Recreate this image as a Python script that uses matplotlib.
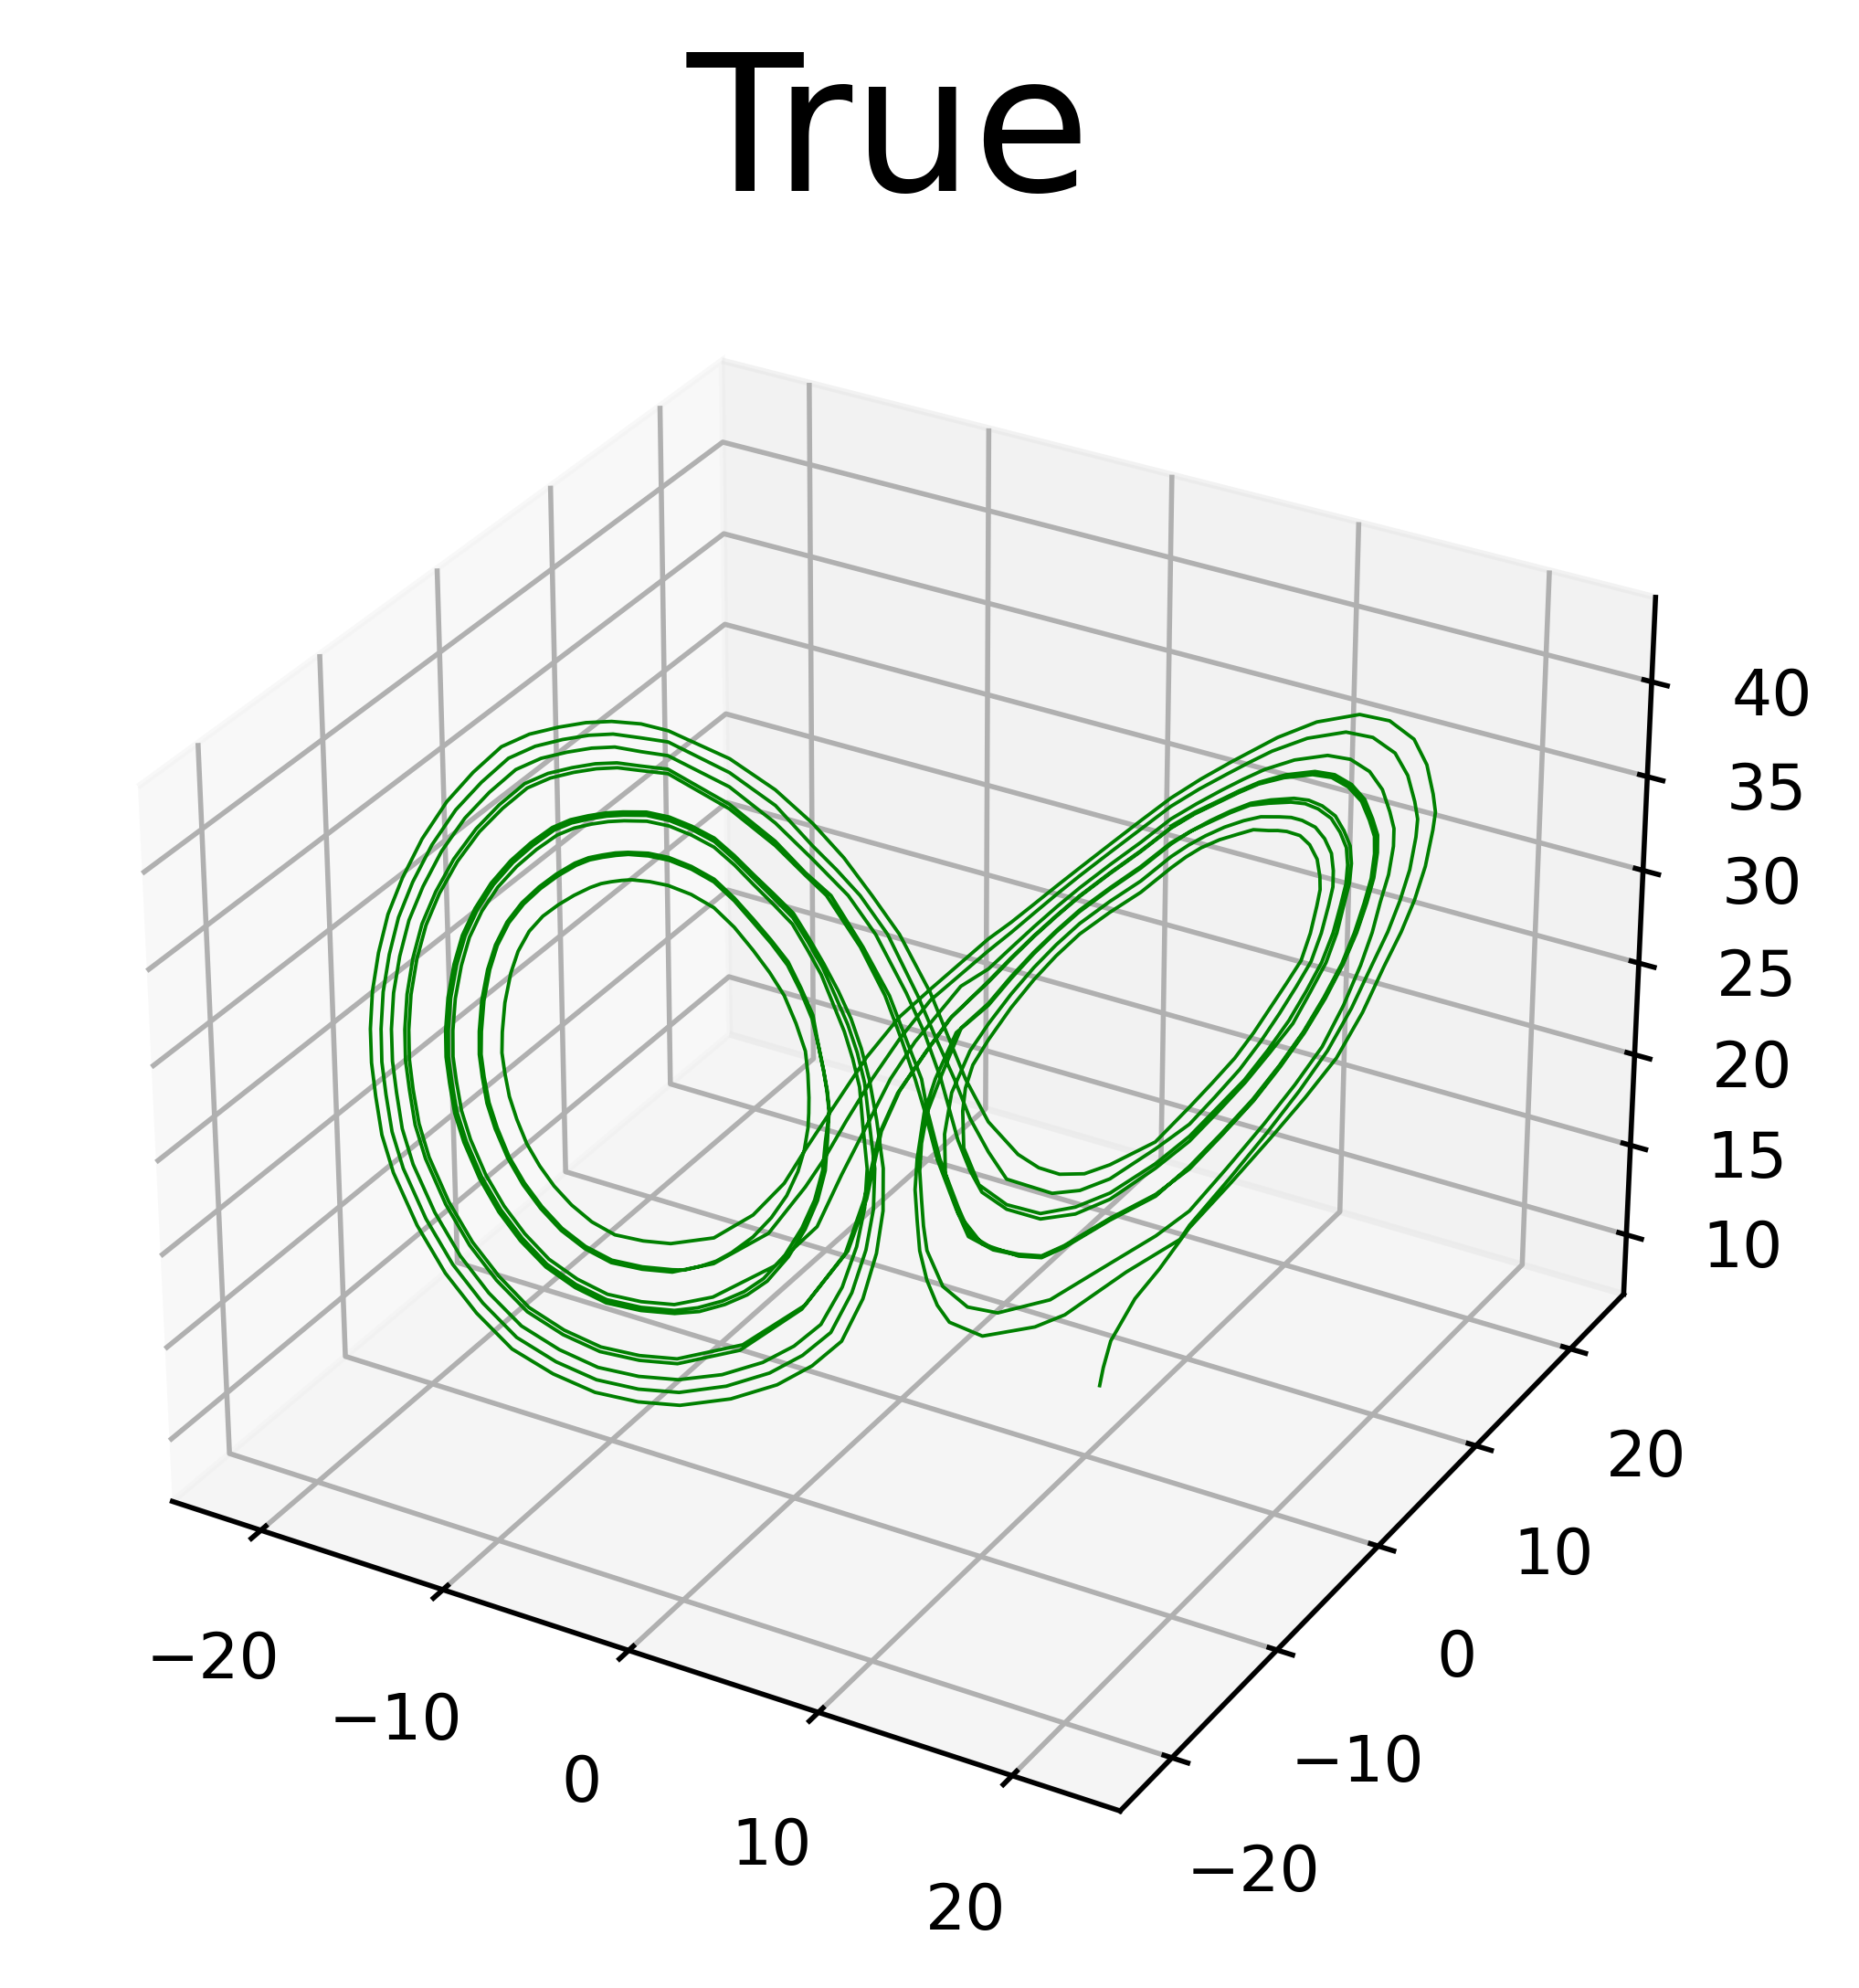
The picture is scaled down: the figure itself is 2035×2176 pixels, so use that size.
import matplotlib
matplotlib.use("Agg")
import matplotlib.pyplot as plt

# Trajectory, one line per stretch of the curve.
# Only the projection can be read, so depth is taken as y = x (see traj_y).
traj_x = [
    6.94, 7.06, 7.31, 8.14, 8.98,
    10.01, 11.40, 12.78, 13.97, 15.03, 15.90, 16.60, 17.17, 17.60, 17.94, 18.16, 18.23, 18.13, 17.88, 17.41, 16.55, 15.51, 14.05, 12.72, 11.96, 11.19, 10.14, 9.12, 8.11, 7.08, 6.05, 5.28, 4.50, 3.73, 2.96,
    1.0, -.05, -1.17, -2.23, -3.27, -3.99, -5.06, -6.40,
    -7.87, -8.80, -9.75, -10.52, -11.19, -11.76, -12.23, -12.64, -12.95, -13.18, -13.31, -13.39, -13.36, -13.25, -13.03, -12.77, -12.39, -11.93, -11.41, -10.89, -10.35, -9.99, -9.66, -9.31, -8.98,
    -8.38, -7.77, -7.01, -6.26, -5.59, -4.97, -4.42, -3.94, -3.55, -3.24, -3.16, -3.13, -3.14, -3.17, -3.30, -3.52, -3.91, -4.44, -5.07, -5.80, -6.33, -6.89, -7.42,
    -7.83, -8.84, -9.87, -10.75, -11.53, -12.19, -12.75, -13.24, -13.61, -13.86, -14.0, -14.08, -14.05, -13.94, -13.72, -13.45, -13.05, -12.55, -11.98, -11.40, -10.80, -10.35, -9.92, -9.48, -9.07,
    -8.41, -7.74, -6.99, -6.25, -5.58, -4.96, -4.36, -3.82, -3.38, -3.01, -2.80, -2.63, -2.52, -2.45, -2.51, -2.59, -2.86, -3.29, -3.87, -4.60, -5.29, -6.06, -6.93,
    -7.77, -8.92, -10.09, -11.13, -12.10, -12.93, -13.63, -14.24, -14.73, -15.01, -15.15, -15.24, -15.23, -15.12, -14.89, -14.59, -14.15, -13.60, -12.94, -12.27, -11.55, -10.95, -10.36, -9.77, -9.22,
    -8.45, -7.70, -6.96, -6.22, -5.56, -4.93, -4.27, -3.61, -3.10, -2.61, -2.12, -1.69, -1.35, -1.08, -.83, -.61, -.62, -.85, -1.32, -2.06, -3.08, -4.29, -5.89,
    -7.64, -9.07, -10.53, -11.94, -13.31, -14.47, -15.48, -16.37, -17.10, -17.44, -17.60, -17.70, -17.70, -17.59, -17.35, -17.0, -16.49, -15.81, -14.97, -14.09, -13.15, -12.23, -11.28, -10.38, -9.54,
    -8.58, -7.69, -5.68, -4.18, -2.94, -1.91, -.97, -.05, 1.0, 1.51, 2.20, 2.99, 4.02, 4.74, 5.46, 6.32, 7.2, 8.77,
    9.94, 10.71, 11.48, 12.12, 12.71, 13.22, 13.71, 14.01, 14.21, 14.31, 14.29, 14.18, 13.91, 13.57, 13.11, 12.80, 12.49, 11.96, 11.44, 10.81, 10.18, 9.67, 9.16, 8.14, 7.09, 6.07, 5.27, 4.52, 3.75, 2.98,
    2.45, 2.2, 2.11, 2.15, 2.68, 3.64, 4.81, 6.02, 7.22, 8.79,
    9.96, 10.88, 11.83, 12.62, 13.34, 13.92, 14.43, 14.80, 15.04, 15.20, 15.24, 15.18, 14.95, 14.63, 14.17, 13.72, 13.23, 12.47, 11.82, 11.16, 10.48, 9.83, 9.15, 8.13, 7.09, 6.06, 5.27, 4.51, 3.74, 2.97,
    2.05, 1.33, .89, .70, .64, .70, .77, .89, 1.44, 2.30, 3.35, 5.17, 7.26, 8.84,
    10.0, 11.29, 12.55, 13.60, 14.52, 15.23, 15.79, 16.16, 16.41, 16.67, 16.81, 16.81, 16.65, 16.37, 15.91, 15.24, 14.45, 13.32, 12.30, 11.58, 10.86, 9.99, 9.13, 8.12, 7.08, 6.06, 5.28, 4.51, 3.74, 2.97,
    2.03, .48, -.36, -1.08, -2.03, -2.88, -4.33, -6.46,
    -7.78, -8.90, -10.04, -11.05, -11.99, -12.78, -13.45, -14.04, -14.51, -14.78, -14.92, -15.01, -14.99, -14.88, -14.65, -14.36, -13.93, -13.39, -12.75, -12.09, -11.40, -10.83, -10.27, -9.71, -9.19,
    -8.44, -7.71, -6.97, -6.23, -5.56, -4.94, -4.29, -3.65, -3.16, -2.69, -2.29, -1.92, -1.64, -1.41, -1.30, -1.16, -1.25, -1.53, -2.03, -2.77, -3.70, -4.78, -6.18,
    -7.68, -9.03, -10.41, -11.71, -12.97, -14.04, -14.96, -15.77, -16.44, -16.76, -16.91, -17.01, -17.01, -16.90, -16.66, -16.32, -15.83, -15.19, -14.40, -13.58, -12.70, -11.87, -11.02, -10.21, -9.45,
    -8.60, -7.71, -5.70, -4.19, -2.95, -1.77, -.85, .18, .79, 1.36, 1.95, 2.37, 2.78, 3.64, 4.81, 6.02, 7.22, 8.79,
    9.96, 10.91, 11.87, 12.69, 13.48, 14.05, 14.58, 14.93, 15.15, 15.32, 15.37, 15.31, 15.08, 14.77, 14.31, 13.84, 13.33, 12.54, 11.85, 11.18, 10.50, 9.83, 9.15, 8.13, 7.09, 6.06, 5.27, 4.51, 3.74, 2.97,
    1.88, 1.17, .79, .55, .48, .55, .64, .89, 1.25, 1.67, 2.82, 4.65, 5.69, 7.82, 9.69,
    10.01, 11.37, 12.68, 13.77, 14.71, 15.51, 16.17, 16.70, 17.09, 17.40, 17.58, 17.62, 17.50, 17.23, 16.77, 15.99, 15.06, 13.74, 12.54, 11.80, 11.05, 10.08, 9.12, 8.11, 7.08, 6.05, 5.28, 4.50, 3.73, 2.96,
    1.0, -.05, -.99, -1.86, -2.64, -3.27, -4.54, -6.42,
    -7.83, -8.85, -9.89, -10.77, -11.56, -12.23, -12.80, -13.29, -13.68, -13.93, -14.06, -14.14, -14.12, -14.01, -13.79, -13.51, -13.11, -12.61, -12.03, -11.45, -10.84, -10.38, -9.94, -9.50, -9.08,
    -8.41, -7.74, -6.99, -6.24, -5.58, -4.95, -4.36, -3.80, -3.37, -2.98, -2.80, -2.63, -2.51, -2.44, -2.58, -2.68, -2.96, -3.40, -3.98, -4.72, -5.39, -6.14, -6.98,
    -7.78, -8.91, -10.07, -11.10, -12.06, -12.87, -13.56, -14.17, -14.65, -14.93, -15.07, -15.16, -15.14, -15.03, -14.80, -14.50, -14.07, -13.52, -12.87, -12.20, -11.50, -10.91, -10.32, -9.75, -9.21,
    -8.45, -7.70, -6.96, -6.22, -5.56, -4.93, -4.28, -3.63, -3.12, -2.64, -2.20, -1.80, -1.48, -1.24, -1.08, -.90, -.95, -1.21, -1.70, -2.43, -3.41, -4.55, -6.04,
    -7.66, -9.05, -10.47, -11.83, -13.14, -14.25, -15.22, -16.07, -16.77, -17.10, -17.26, -17.36, -17.35, -17.24, -17.0, -16.66, -16.16, -15.50, -14.69, -13.83, -12.93, -12.05, -11.15, -10.29, -9.50,
    -8.59, -7.70, -5.69, -4.18, -2.95, -2.16, -1.37, -.45, .57, 1.20, 1.82, 2.36, 3.0, 3.63, 5.21, 6.17, 7.21, 8.78,
    9.95, 10.81, 11.66, 12.37, 13.01, 13.56, 14.06, 14.39, 14.62, 14.75, 14.75, 14.67, 14.42, 14.09, 13.63, 13.25, 12.85, 12.21, 11.62, 10.97, 10.32, 9.74, 9.15, 8.14, 7.09, 6.07, 5.27, 4.52, 3.75, 2.98,
    2.35, 1.73, 1.49, 1.52, 1.97, 2.79, 4.07, 4.86, 5.64, 7.23, 8.81,
    9.97, 11.06, 12.14, 13.05, 13.85, 14.53, 15.13, 15.54, 15.85, 16.07, 16.16, 16.14, 15.95, 15.66, 15.19, 14.61, 13.95, 12.97, 12.11, 11.41, 10.71, 9.93, 9.14, 8.12, 7.08, 6.06, 5.28, 4.51, 3.74, 2.97,
    1.72, .88, -.05, -.67, -1.18, -1.83, -3.32, -5.46,
    -7.71, -8.99, -10.30, -11.53, -12.70, -13.68, -14.54, -15.29, -15.90, -16.20, -16.36, -16.45, -16.44, -16.33, -16.10, -15.77, -15.30, -14.68, -13.94, -13.16, -12.34, -11.58, -10.81, -10.07, -9.38,
    -8.63, -7.72, -5.71, -4.2, -3.2, -2.5, -1.37, -.54, .01, .48, .79, 1.24, 1.9, 2.32, 3.18, 4.07, 4.86, 5.64, 7.23, 8.81,
    9.97, 11.06, 12.16, 13.06, 13.87, 14.56, 15.16, 15.59, 15.91, 16.13, 16.23, 16.21, 16.02, 15.73, 15.26, 14.68, 14.0, 13.0, 12.12, 11.42, 10.72, 9.93, 9.14, 8.12, 7.08, 6.06, 5.28, 4.51, 3.74, 2.97,
    1.66, .82, -.11, -.73, -1.28, -1.92, -3.42, -5.56,
    -7.70, -9.0, -10.33, -11.57, -12.76, -13.77, -14.64, -15.40, -16.02, -16.33, -16.48, -16.58, -16.57, -16.46, -16.23, -15.90, -15.42, -14.80, -14.04, -13.26, -12.42, -11.65, -10.86, -10.10, -9.39,
    -8.62, -7.72, -5.71, -4.2, -3.2, -2.35, -1.28, -.39, .17, .70, .89, 1.33, 1.97, 2.38, 3.18, 4.07, 4.86, 5.64, 7.23, 8.81,
    9.98, 11.07, 12.17, 13.08, 13.89, 14.59, 15.18, 15.62, 15.94, 16.16, 16.26, 16.25, 16.06, 15.77, 15.30, 14.71, 14.03, 13.03, 12.13, 11.43, 10.73, 9.94, 9.14,
]
traj_z = [
    5.83, 6.81, 8.25, 10.42, 11.88,
    13.94, 16.05, 18.25, 20.23, 22.16, 24.45, 26.77, 28.53, 30.15, 31.88, 33.76, 34.69, 35.66, 37.25, 38.68, 39.81, 40.34, 40.23, 39.68, 39.21, 38.73, 38.02, 37.22, 36.24, 35.21, 34.17, 33.38, 32.56, 31.76, 31.04,
    28.78, 27.52, 25.60, 23.32, 21.07, 19.42, 17.93, 16.98,
    16.99, 17.34, 17.88, 18.75, 19.81, 20.95, 22.14, 23.41, 24.77, 26.04, 27.3, 28.4, 29.49, 31.0, 32.51, 33.6, 34.56, 35.25, 35.74, 36.12, 36.42, 36.55, 36.58, 36.58, 36.55,
    36.33, 36.01, 35.39, 34.55, 33.39, 32.06, 30.77, 29.46, 27.90, 26.36, 25.12, 23.85, 23.02, 22.23, 21.07, 19.96, 18.73, 17.65, 16.74, 16.05, 15.7, 15.53, 15.45,
    15.56, 15.94, 16.53, 17.47, 18.63, 19.95, 21.33, 22.84, 24.46, 25.86, 27.25, 28.46, 29.66, 31.24, 32.83, 34.04, 35.14, 36.01, 36.70, 37.24, 37.66, 37.85, 37.90, 37.91, 37.88,
    37.67, 37.32, 36.70, 35.89, 34.77, 33.52, 32.29, 31.04, 29.55, 28.04, 26.57, 25.20, 24.09, 22.98, 21.41, 19.81, 18.24, 16.77, 15.39, 14.22, 13.62, 13.26, 13.07,
    13.15, 13.57, 14.25, 15.32, 16.65, 18.25, 19.96, 21.88, 23.93, 25.55, 27.17, 28.56, 29.95, 31.65, 33.35, 34.79, 36.10, 37.30, 38.33, 39.11, 39.76, 40.04, 40.13, 40.16, 40.10,
    39.94, 39.54, 38.92, 38.16, 37.12, 36.01, 34.88, 33.72, 32.32, 30.89, 29.33, 27.76, 26.12, 24.41, 22.14, 19.50, 17.19, 14.91, 12.52, 10.34, 9.21, 8.43, 8.01,
    8.05, 8.57, 9.43, 10.77, 12.45, 14.67, 17.07, 19.84, 22.82, 24.91, 26.99, 28.78, 30.55, 32.50, 34.45, 36.37, 38.15, 40.02, 41.76, 43.08, 44.20, 44.66, 44.83, 44.89, 44.79,
    44.48, 43.96, 42.14, 40.25, 38.26, 36.28, 34.12, 31.90, 28.58, 26.51, 23.73, 21.25, 19.26, 18.38, 17.87, 17.71, 18.01, 18.92,
    20.57, 21.71, 22.90, 24.14, 25.44, 26.57, 27.69, 29.10, 30.51, 31.36, 32.07, 33.0, 33.82, 34.37, 34.68, 34.79, 34.85, 35.0, 34.87, 34.7, 34.40, 34.02, 33.54, 32.46, 31.61, 30.67, 29.67, 28.56, 27.23, 25.67,
    24.43, 23.24, 22.02, 20.01, 17.89, 16.60, 15.86, 15.95, 16.46, 17.73,
    18.98, 20.29, 21.64, 23.08, 24.55, 26.02, 27.46, 28.96, 30.42, 31.49, 32.49, 33.42, 34.27, 35.07, 35.66, 36.02, 36.20, 36.29, 36.31, 36.05, 35.70, 35.35, 34.87, 33.82, 32.91, 31.94, 31.01, 30.02, 28.88, 27.61,
    26.50, 23.92, 22.18, 20.57, 19.09, 17.57, 16.06, 14.69, 12.59, 11.26, 10.70, 11.02, 12.58, 13.75,
    14.87, 16.96, 19.09, 21.01, 22.88, 24.98, 27.03, 28.71, 30.28, 31.69, 33.17, 34.10, 35.01, 36.24, 37.28, 38.05, 38.41, 38.39, 38.09, 37.72, 37.30, 36.74, 36.12, 35.10, 34.13, 33.12, 32.27, 31.37, 30.42, 29.45,
    28.72, 26.09, 24.27, 22.19, 19.47, 16.82, 15.0, 13.76,
    13.64, 14.05, 14.71, 15.76, 17.05, 18.6, 20.24, 22.07, 24.04, 25.62, 27.18, 28.54, 29.9, 31.56, 33.24, 34.64, 35.91, 37.04, 37.99, 38.73, 39.34, 39.59, 39.68, 39.70, 39.64,
    39.47, 39.08, 38.46, 37.69, 36.63, 35.50, 34.35, 33.17, 31.75, 30.31, 28.66, 27.13, 25.62, 24.06, 21.94, 19.59, 17.48, 15.43, 13.32, 11.43, 10.44, 9.78, 9.42,
    9.48, 9.97, 10.78, 12.05, 13.63, 15.67, 17.88, 20.41, 23.13, 25.09, 27.04, 28.72, 30.39, 32.27, 34.13, 35.93, 37.57, 39.26, 40.80, 41.96, 42.95, 43.36, 43.51, 43.56, 43.47,
    43.07, 42.69, 40.70, 38.54, 36.40, 34.28, 32.05, 28.75, 26.52, 23.91, 20.47, 18.73, 17.47, 16.35, 15.56, 15.57, 16.12, 17.48,
    18.71, 20.07, 21.51, 22.93, 24.36, 25.91, 27.41, 28.93, 30.41, 31.51, 32.54, 33.48, 34.33, 35.17, 35.79, 36.18, 36.38, 36.45, 36.41, 36.14, 35.78, 35.35, 34.80, 33.74, 32.84, 31.86, 30.94, 29.94, 28.78, 27.51,
    26.28, 23.95, 22.20, 19.75, 18.10, 16.45, 14.73, 13.05, 11.59, 10.56, 9.53, 9.63, 10.07, 11.97, 13.37,
    14.07, 16.33, 18.62, 20.66, 22.62, 24.76, 26.91, 28.62, 30.20, 31.80, 33.50, 34.44, 35.39, 36.82, 38.08, 39.05, 39.51, 39.44, 39.0, 38.58, 38.12, 37.50, 36.78, 35.79, 34.78, 33.75, 32.94, 32.08, 31.22, 30.41,
    28.19, 26.34, 24.39, 22.35, 20.41, 19.07, 16.82, 15.58,
    15.43, 15.81, 16.4, 17.35, 18.52, 19.85, 21.25, 22.79, 24.43, 25.84, 27.25, 28.47, 29.68, 31.27, 32.85, 34.08, 35.19, 36.08, 36.79, 37.34, 37.78, 37.97, 38.02, 38.04, 37.99,
    37.81, 37.46, 36.84, 36.03, 34.92, 33.68, 32.46, 31.21, 29.73, 28.23, 26.59, 25.22, 24.11, 22.99, 21.38, 19.83, 18.28, 16.86, 15.52, 14.39, 13.82, 13.47, 13.29,
    13.32, 13.74, 14.42, 15.48, 16.79, 18.38, 20.06, 21.95, 23.97, 25.58, 27.17, 28.56, 29.93, 31.62, 33.31, 34.74, 36.03, 37.21, 38.21, 38.97, 39.61, 39.87, 39.96, 39.99, 39.93,
    39.77, 39.36, 38.75, 37.98, 36.93, 35.82, 34.67, 33.50, 32.10, 30.66, 29.01, 27.47, 25.89, 24.25, 22.03, 19.55, 17.34, 15.18, 12.94, 10.91, 9.86, 9.14, 8.75,
    8.77, 9.27, 10.11, 11.41, 13.04, 15.17, 17.48, 20.13, 22.98, 25.0, 27.01, 28.75, 30.47, 32.39, 34.29, 36.14, 37.87, 39.64, 41.28, 42.52, 43.57, 44.01, 44.18, 44.23, 44.14,
    43.77, 43.39, 41.43, 39.44, 37.10, 35.71, 34.20, 31.98, 28.52, 26.08, 23.81, 21.57, 19.61, 18.0, 16.88, 16.83, 17.24, 18.54,
    19.64, 20.92, 22.25, 23.61, 25.01, 26.31, 27.58, 29.03, 30.47, 31.42, 32.28, 33.21, 34.04, 34.71, 35.16, 35.39, 35.50, 35.63, 35.54, 35.33, 35.0, 34.62, 34.13, 33.06, 32.19, 31.23, 30.26, 29.21, 27.96, 26.53,
    25.2, 23.09, 20.9, 18.73, 16.46, 14.64, 13.68, 13.42, 13.81, 14.97, 15.94,
    17.32, 18.88, 20.53, 22.19, 23.83, 25.53, 27.24, 28.82, 30.34, 31.61, 32.89, 33.82, 34.71, 35.76, 36.61, 37.22, 37.50, 37.53, 37.37, 37.04, 36.65, 36.22, 35.64, 34.61, 33.66, 32.66, 31.78, 30.85, 29.83, 28.75,
    27.16, 25.51, 23.55, 21.52, 17.96, 15.26, 12.6, 10.91,
    10.64, 11.11, 11.88, 13.08, 14.58, 16.49, 18.54, 20.87, 23.39, 25.24, 27.08, 28.67, 30.25, 32.07, 33.89, 35.56, 37.11, 38.64, 40.01, 41.06, 41.94, 42.30, 42.44, 42.48, 42.40,
    42.11, 41.77, 39.57, 37.37, 35.62, 34.43, 31.50, 28.76, 26.33, 24.09, 22.39, 19.6, 16.72, 15.14, 14.22, 13.73, 13.47, 13.86, 15.02, 15.99,
    17.26, 18.82, 20.48, 22.15, 23.8, 25.51, 27.23, 28.82, 30.33, 31.62, 32.92, 33.85, 34.74, 35.81, 36.68, 37.30, 37.59, 37.62, 37.41, 37.09, 36.69, 36.26, 35.67, 34.65, 33.70, 32.70, 31.82, 30.89, 29.88, 28.8,
    27.06, 25.42, 23.47, 21.44, 17.88, 15.14, 12.42, 10.63,
    10.37, 10.85, 11.63, 12.84, 14.36, 16.3, 18.39, 20.77, 23.33, 25.2, 27.07, 28.68, 30.28, 32.11, 33.95, 35.65, 37.22, 38.78, 40.19, 41.27, 42.18, 42.55, 42.69, 42.74, 42.65,
    42.34, 42.0, 39.81, 37.60, 35.76, 34.40, 31.48, 28.72, 26.3, 24.04, 22.38, 19.59, 16.8, 15.23, 14.28, 13.78, 13.52, 13.91, 15.07, 16.04,
    17.19, 18.77, 20.44, 22.11, 23.77, 25.49, 27.22, 28.81, 30.33, 31.62, 32.94, 33.87, 34.76, 35.84, 36.72, 37.35, 37.65, 37.67, 37.46, 37.13, 36.74, 36.31, 35.75,
]
traj_y = list(traj_x)

xy_ticks = [-20, -10, 0, 10, 20]
z_ticks = [10, 15, 20, 25, 30, 35, 40]

fig = plt.figure(figsize=(4.07, 4.352), dpi=500)
ax = fig.add_axes([0.0242, 0.0355, 0.9076, 0.8488], projection='3d')
ax.plot(traj_x, traj_y, traj_z, color='green', linewidth=0.55)
ax.set_xlim(-24.94, 25.48)
ax.set_ylim(-24.8, 25.8)
ax.set_zlim(6.65, 44.4)
ax.set_xticks(xy_ticks)
ax.set_yticks(xy_ticks)
ax.set_zticks(z_ticks)
ax.set_title('True', fontsize=30)
fig.savefig('out.png', dpi=500)
